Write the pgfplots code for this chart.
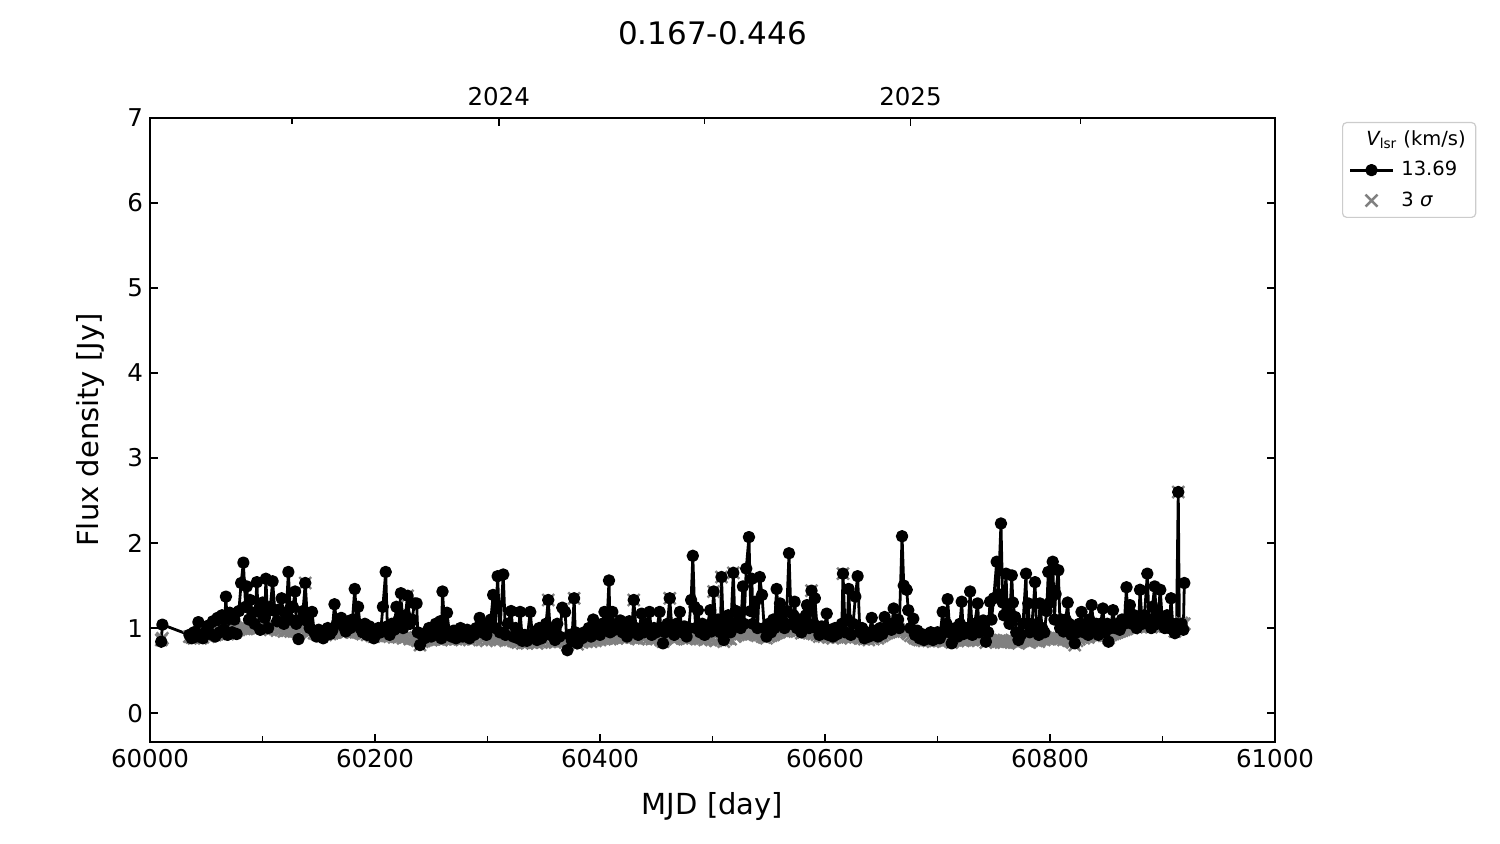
\documentclass[border=0pt]{standalone}
\usepackage{fontspec}
\setmainfont{DejaVu Sans}
\usepackage{pgfplots}
\pgfplotsset{compat=1.18}
\usepackage{pgfplotstable}
\pgfplotstableread{
mjd f s
60010 0.84 0.86
60011 1.04 0.88
60035 0.92 0.90
60037 0.88 0.89
60039 0.95 0.88
60041 0.90 0.91
60043 1.07 0.90
60045 0.92 0.88
60047 0.88 0.89
60050 0.97 0.92
60052 1.03 0.90
60054 0.93 0.91
60056 1.08 0.93
60058 0.90 0.92
60060 1.12 0.94
60062 0.95 0.93
60064 1.15 0.95
60066 0.98 0.94
60067.5 1.37 0.96
60069 0.92 0.93
60071 1.18 0.95
60073 0.95 0.96
60075 1.10 0.95
60077 0.93 0.97
60079 1.20 0.98
60081 1.53 0.99
60083 1.77 1.00
60085 1.25 1.01
60086 1.49 0.99
60088 1.10 1.00
60089 1.33 1.02
60091 1.18 1.00
60093 1.05 0.99
60095 1.54 1.01
60096 1.20 1.00
60098 0.98 1.02
60100 1.30 1.00
60102 1.12 1.01
60103 1.58 0.99
60105 1.00 1.00
60107 1.25 0.98
60109 1.55 1.00
60111 1.20 0.99
60113 1.08 0.97
60115 1.22 0.99
60117 1.35 0.98
60119 1.05 0.96
60121 1.15 0.97
60123 1.66 0.98
60125 1.10 0.96
60127 1.25 0.97
60129 1.43 0.98
60130 1.05 0.96
60132 0.87 0.95
60134 1.10 0.97
60136 1.20 0.98
60138 1.53 1.53
60140 1.08 0.96
60142 1.00 0.95
60144 1.19 0.97
60146 0.95 0.94
60148 0.90 0.93
60150 0.98 0.94
60152 0.92 0.92
60154 0.88 0.93
60156 0.95 0.92
60158 1.00 0.94
60160 0.93 0.93
60162 0.97 0.94
60164 1.28 0.95
60166 1.05 0.96
60168 1.10 0.97
60170 1.12 0.95
60172 1.02 0.96
60174 0.96 0.95
60176 1.08 0.97
60178 1.00 0.96
60180 1.10 0.95
60182 1.46 0.97
60184 1.05 0.96
60185 1.25 0.95
60187 1.00 0.94
60189 0.95 0.93
60191 1.05 0.94
60193 0.92 0.92
60195 1.02 0.93
60197 0.96 0.91
60199 0.88 0.90
60201 0.93 0.91
60203 1.00 0.92
60205 0.95 0.91
60207 1.25 0.93
60209.5 1.66 0.92
60211 1.02 0.91
60213 0.92 0.90
60215 1.05 0.91
60217 0.98 0.89
60219 1.25 0.90
60221 1.10 0.89
60223 1.41 0.90
60225 1.00 0.88
60227 1.15 0.89
60229 1.38 1.38
60231 1.05 0.87
60233 1.10 0.88
60235 1.29 0.87
60237 1.29 0.86
60238 0.95 0.85
60240 0.80 0.80
60242 0.92 0.84
60244 0.88 0.85
60246 0.95 0.86
60248 1.00 0.87
60250 0.90 0.86
60252 0.93 0.87
60254 1.05 0.88
60256 0.92 0.87
60258 1.08 0.88
60259 0.88 0.86
60260 1.43 0.88
60262 1.00 0.87
60264 1.18 0.88
60266 0.95 0.87
60268 0.90 0.86
60270 0.97 0.88
60272 0.88 0.87
60274 0.95 0.88
60276 1.00 0.89
60278 0.90 0.87
60280 0.93 0.88
60282 0.98 0.89
60284 0.88 0.86
60286 0.95 0.88
60288 0.92 0.87
60290 1.00 0.88
60293 1.12 0.89
60295 0.95 0.86
60297 1.05 0.88
60299 0.92 0.85
60301 1.00 0.87
60303 1.10 0.88
60305 1.39 0.89
60307 1.00 0.87
60309 1.61 0.88
60311 0.95 0.86
60314 1.63 0.87
60316 0.92 0.85
60318 1.05 0.86
60321 1.20 0.87
60323 0.90 0.85
60325 1.00 0.84
60327 0.88 0.83
60329 1.19 0.84
60331 0.85 0.82
60333 0.92 0.83
60335 0.85 0.82
60338 1.19 0.84
60340 0.90 0.83
60342 0.96 0.84
60344 0.86 0.82
60346 1.00 0.84
60348 0.88 0.83
60350 0.95 0.85
60352 1.05 0.84
60354 1.33 1.33
60356 0.92 0.84
60358 0.97 0.85
60360 0.86 0.83
60362 1.05 0.85
60364 0.90 0.84
60366.5 1.24 0.85
60369 1.19 0.84
60371 0.74 0.80
60373 0.92 0.83
60375 0.85 0.82
60377 1.35 1.35
60378 0.95 0.84
60380 0.82 0.81
60382 0.90 0.84
60384 0.88 0.83
60386 0.95 0.85
60388 0.92 0.84
60390 1.00 0.86
60392 0.90 0.84
60394 1.10 0.86
60396 0.95 0.85
60398 1.02 0.87
60400 0.92 0.86
60402 1.05 0.88
60404 1.19 0.87
60406 1.00 0.88
60408 1.56 0.89
60409 0.95 0.87
60411 1.19 0.88
60413 0.98 0.89
60415 1.05 0.88
60418 1.09 0.90
60420 0.95 0.89
60422 1.02 0.90
60424 0.90 0.88
60426 1.08 0.90
60428 0.95 0.89
60430 1.33 1.33
60432 1.00 0.88
60434 0.92 0.87
60437 1.17 0.89
60439 0.95 0.88
60441 1.05 0.90
60444 1.19 0.89
60446 0.92 0.87
60448 1.00 0.88
60450 0.95 0.87
60453 1.19 0.88
60454 1.00 0.86
60456 0.82 0.84
60458 0.95 0.87
60460 1.05 0.89
60462 1.35 1.35
60464 0.98 0.88
60466 0.92 0.87
60468 1.05 0.89
60471 1.19 0.90
60473 0.95 0.88
60475 1.02 0.89
60477 0.90 0.87
60479 1.00 0.88
60481 1.33 0.90
60482.5 1.85 0.89
60484 1.25 0.90
60485 1.00 0.88
60487 1.21 0.89
60489 0.95 0.87
60491 1.05 0.88
60493 0.92 0.86
60495 1.00 0.87
60498 1.21 0.88
60499 0.96 0.86
60501 1.43 1.43
60503 1.00 0.85
60505 1.10 0.87
60507 0.95 0.86
60508 1.60 1.60
60510 0.86 0.84
60512 1.05 0.87
60514 1.15 0.88
60516 0.95 0.87
60518.5 1.65 1.65
60520 1.05 0.90
60521 1.20 0.91
60523 1.09 0.92
60525 1.00 0.93
60527 1.49 0.94
60528 1.05 0.93
60530 1.70 0.95
60532.4 2.07 0.94
60534 1.20 0.95
60535 1.58 0.93
60536 1.05 0.94
60538 1.31 0.92
60540 1.00 0.91
60542 1.60 0.92
60544 1.39 0.90
60546 1.00 0.89
60548 0.90 0.88
60550 1.05 0.90
60552 0.95 0.91
60554 1.10 0.92
60555 1.00 0.93
60557 1.46 0.94
60559 1.05 0.95
60560 1.29 0.96
60562 1.10 0.97
60564 1.00 0.96
60566 1.20 0.98
60568 1.88 0.97
60570 1.05 0.98
60572 1.15 0.99
60573 1.31 0.98
60575 1.00 0.96
60577 1.10 0.97
60579 0.95 0.94
60581 1.05 0.95
60583 1.15 0.96
60584 1.27 0.95
60586 1.00 0.94
60588 1.44 1.44
60590 1.05 0.93
60591 1.35 0.94
60593 1.00 0.92
60595 0.92 0.90
60597 1.02 0.91
60599 0.95 0.90
60601.5 1.17 0.91
60603 0.92 0.89
60605 0.98 0.90
60607 0.90 0.88
60609 1.00 0.90
60611 0.93 0.89
60613 0.98 0.90
60615 1.05 0.91
60616 1.64 1.64
60618 0.95 0.89
60620 1.10 0.90
60621 1.46 0.91
60623 0.92 0.88
60625 1.05 0.90
60627 1.37 0.91
60629 1.61 0.90
60631 0.95 0.88
60633 1.00 0.89
60635 0.88 0.87
60637 0.95 0.88
60639 0.90 0.86
60641.5 1.12 0.88
60643 0.92 0.87
60645 0.97 0.89
60647 0.90 0.88
60649 1.00 0.90
60651 0.93 0.91
60653 1.13 0.93
60655 1.00 0.94
60657 1.05 0.95
60659 0.98 0.96
60661 1.23 0.97
60663 1.05 0.98
60665 1.10 0.99
60666 1.00 0.97
60668.5 2.08 0.98
60670 1.50 0.96
60672.6 1.45 0.95
60674 1.21 0.93
60676 1.00 0.91
60678.5 1.11 0.90
60680 0.92 0.88
60682 0.97 0.87
60684 0.88 0.86
60686 0.93 0.86
60688 0.86 0.85
60690 0.92 0.86
60692 0.88 0.85
60694 0.95 0.86
60696 0.86 0.84
60698 0.92 0.85
60700 0.95 0.86
60702 0.88 0.85
60704.6 1.19 0.86
60706 0.95 0.85
60708 1.05 0.86
60709 1.34 0.87
60711 0.95 0.85
60712.6 0.82 0.83
60714 0.92 0.85
60716 1.00 0.86
60718 0.90 0.85
60720 1.05 0.87
60721.5 1.31 0.86
60723 0.93 0.85
60725 1.00 0.86
60727 0.95 0.85
60729 1.43 0.87
60731 0.92 0.86
60733 1.05 0.87
60735.7 1.29 0.88
60737 0.95 0.86
60739 1.02 0.87
60740.7 1.09 0.86
60743 0.84 0.83
60745 0.95 0.85
60746.7 1.31 0.86
60748 1.10 0.85
60750 1.35 0.86
60752.6 1.78 0.85
60754 1.40 0.84
60756.4 2.23 0.83
60758 1.30 0.84
60759 1.15 0.83
60760.9 1.64 0.85
60762 1.20 0.84
60764 1.05 0.85
60766 1.62 0.86
60767 1.30 0.85
60769 1.13 0.84
60770 0.95 0.83
60772 0.86 0.82
60774 0.92 0.84
60776 1.05 0.85
60778.7 1.64 0.86
60779.5 1.05 0.85
60780.7 1.29 0.84
60782 0.95 0.83
60784 1.05 0.85
60786.7 1.54 0.86
60788 1.00 0.85
60790 0.92 0.84
60791 1.29 0.86
60793 1.00 0.87
60795 0.95 0.86
60797 1.20 0.88
60798.5 1.66 0.87
60800 1.30 0.88
60802.4 1.78 0.89
60804 1.10 0.88
60805 1.40 0.89
60807.4 1.68 0.88
60809 1.00 0.87
60810 1.10 0.88
60812 0.96 0.86
60814 1.10 0.87
60815.7 1.30 0.86
60817 1.05 0.85
60819 0.92 0.84
60820 1.00 0.83
60822 0.82 0.80
60824 0.95 0.85
60826 1.05 0.87
60828 1.19 0.89
60830 0.95 0.88
60832 1.05 0.90
60834 0.92 0.89
60835 1.10 0.91
60837 1.27 0.92
60839 1.00 0.91
60841 1.05 0.92
60843 0.92 0.90
60845 1.05 0.92
60847 1.23 0.93
60849 0.95 0.91
60851 1.05 0.92
60852 0.84 0.88
60854 1.00 0.92
60856 1.21 0.93
60858 1.00 0.94
60860 1.05 0.95
60862 0.98 0.96
60864 1.10 0.97
60866 1.05 0.98
60868 1.48 0.99
60869 1.10 1.00
60871 1.27 1.01
60873 1.05 1.00
60875 1.15 1.02
60877 1.00 1.01
60879 1.10 1.02
60880 1.45 1.03
60882 1.05 1.02
60884 1.15 1.03
60886.5 1.64 1.02
60888 1.10 1.03
60890 1.00 1.01
60891 1.25 1.02
60893 1.49 1.03
60895 1.05 1.02
60896 1.15 1.03
60898 1.45 1.04
60900 1.05 1.03
60902 1.00 1.02
60904 1.15 1.03
60906 1.00 1.02
60907.6 1.35 1.04
60909 1.05 1.03
60911 0.94 0.96
60912.5 1.05 1.04
60914 2.60 2.60
60915 1.00 1.03
60917 1.05 1.06
60918.5 0.98 1.04
60919.4 1.53 1.05
}\data

\begin{document}
\begin{tikzpicture}
\useasboundingbox (0,0) rectangle (750pt,422pt);
\begin{axis}[
  at={(75pt,51pt)}, anchor=south west,
  scale only axis, width=562.5pt, height=312pt,
  xmin=60000, xmax=61000, ymin=-0.34, ymax=7,
  xtick={60000,60200,...,61000},
  minor xtick={60100,60300,...,60900},
  ytick={0,1,...,7},
  scaled x ticks=false,
  xtick pos=left, ytick pos=both,
  tick align=inside,
  major tick length=4pt, minor tick length=3pt,
  tick style={black, line width=0.75pt},
  axis line style={line width=0.9pt},
  /pgf/number format/assume math mode=true,
  /pgf/number format/set thousands separator={},
  /pgf/number format/fixed,
  tick label style={font=\fontsize{12.25}{14}\selectfont},
  xlabel={MJD [day]}, ylabel={Flux density [Jy]},
  label style={font=\fontsize{14.5}{17}\selectfont},
  xlabel style={at={(axis description cs:0.5,-0.1026)}, anchor=center},
  ylabel style={at={(axis description cs:-0.0533,0.5)}, anchor=center},
  legend style={at={(1,1)}, anchor=north west, xshift=33.5pt, yshift=-2pt,
    draw=black!20, rounded corners=2pt, line width=0.6pt,
    font=\fontsize{9.75}{11.5}\selectfont, row sep=2.5pt,
    inner xsep=3pt, inner ysep=2pt},
  legend cell align=left,
  legend image code/.code={\draw[mark repeat=2,mark phase=2] plot coordinates {(0pt,0pt) (10.75pt,0pt) (21.5pt,0pt)};},
]
\addlegendimage{empty legend}
\addlegendentry{\hspace*{-16pt}{\itshape V}\textsubscript{lsr} (km/s)}
\addplot[only marks, mark=x, color=gray, mark size=4.2pt, line width=1.2pt, forget plot] table[x=mjd, y=s] {\data};
\addplot[black, line width=1.4pt, line join=round, mark=*, mark size=2.4pt] table[x=mjd, y=f] {\data};
\addlegendentry{\hspace*{1.5pt}13.69}
\addlegendimage{only marks, mark=x, color=gray, mark size=4.2pt, line width=1.2pt}
\addlegendentry{\hspace*{1.5pt}3 {\itshape σ}}
\end{axis}
\begin{axis}[
  at={(75pt,51pt)}, anchor=south west,
  scale only axis, width=562.5pt, height=312pt,
  xmin=60000, xmax=61000, ymin=0, ymax=1,
  scaled x ticks=false,
  axis x line*=top, hide y axis,
  xtick={60310,60676}, xticklabels={2024,2025},
  minor xtick={60126,60493,60827},
  tick align=inside,
  major tick length=4pt, minor tick length=3pt,
  tick style={black, line width=0.75pt},
  axis line style={line width=0.9pt},
  tick label style={font=\fontsize{12.25}{14}\selectfont},
  xticklabel style={yshift=2.5pt},
]
\addplot[draw=none] coordinates {(60000,0)};
\end{axis}
\node[font=\fontsize{15.5}{18}\selectfont] at (356.25pt,405.5pt) {0.167-0.446};
\end{tikzpicture}
\end{document}
